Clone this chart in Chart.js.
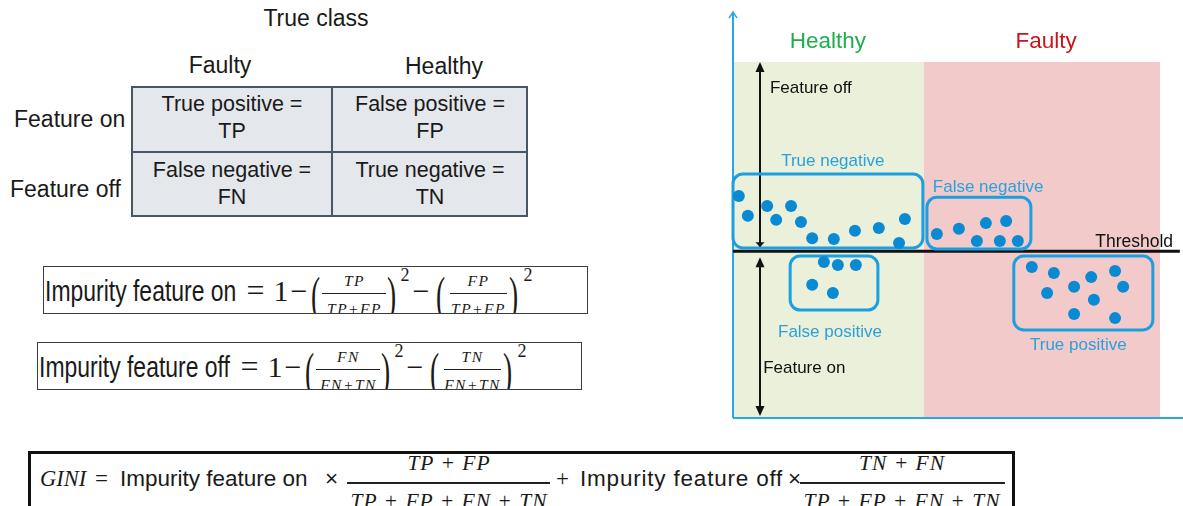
<!DOCTYPE html>
<html lang="en">
<head>
<meta charset="UTF-8">
<title>Gini impurity of a feature</title>
<script src="https://cdn.jsdelivr.net/npm/chart.js"></script>
<style>
  body { margin:0; background:#fff; }
  #page { position:relative; width:1183px; height:506px; overflow:hidden; background:#fff;
          font-family:"Liberation Sans", Arial, sans-serif; color:#1a1a1a; }
  .t { position:absolute; white-space:nowrap; line-height:1; }
  .r { position:absolute; box-sizing:border-box; }
  #wrap { position:absolute; left:720px; top:0; width:463px; height:430px; }
</style>
</head>
<body>
<div id="page">
  <div id="wrap"><canvas id="diagram" width="463" height="430"></canvas></div>
</div>

<script>
// ---- data (feature value on x, model output on y, 0..100 units) ----
const tnX = [1.3, 3.3, 7.6, 9.6, 12.9, 15.1, 17.6, 22.4, 27.1, 32.4, 38.2, 36.9];
const tnY = [54.7, 49.8, 52.2, 48.8, 52.2, 48.3, 44.3, 44.1, 46.1, 46.8, 49.0, 43.1];
const fnX = [45.3, 50.2, 56.2, 60.7, 54.2, 59.3, 63.3];
const fnY = [45.3, 46.6, 48.0, 48.5, 43.6, 43.6, 43.6];
const fpX = [20.2, 23.3, 27.3, 17.6, 22.2];
const fpY = [38.4, 37.7, 37.7, 32.8, 30.8];
const tpX = [66.4, 71.3, 79.6, 84.9, 69.8, 75.8, 86.7, 80.2, 75.8, 84.9];
const tpY = [37.2, 35.7, 34.7, 36.2, 30.8, 32.3, 32.3, 29.1, 25.6, 24.6];

const threshold = 41.1;
const classNames = ['Healthy', 'Faulty'];
const classEdges = [0, 42.4, 94.9];
const classTop = 87.7;
const groupNames = ['True negative', 'False negative', 'False positive', 'True positive'];
const sideNames = ['Feature off', 'Feature on'];

// confusion table text
const colNames = ['Faulty', 'Healthy'];
const rowNames = ['Feature on', 'Feature off'];
const cells = [['True positive =', 'TP'], ['False positive =', 'FP'],
               ['False negative =', 'FN'], ['True negative =', 'TN']];

// ---- layout of the drawing (not data) ----
const layout = {
  groupBoxes: [[0, 42.2, 41.9, 60.1], [43.1, 66.2, 41.6, 54.4], [12.7, 32.2, 26.6, 39.9], [62.4, 93.3, 21.7, 39.9]],
  groupLabels: [[10.7, 62.1], [44.4, 55.7], [10.0, 20.0], [66.0, 16.7]],
  classLabelX: [21.1, 69.6],
  classLabelY: 91.1,
  sideLabels: [[8.2, 80.0], [6.7, 11.1]],
  arrowX: 6.0,
  thresholdEnd: 99.3
};

const BLUE = '#1c9fe0';

// ---- left side: table and formulas as html text ----
const page = document.getElementById('page');

function put(parent, text, x, base, size, css, center) {
  var s = document.createElement('span');
  s.className = 't';
  s.textContent = text;
  s.style.cssText = 'left:' + x + 'px;top:' + (base - 0.85 * size) + 'px;font-size:' + size + 'px;' + (css || '');
  if (center) s.style.transform = 'translateX(-50%)';
  parent.appendChild(s);
  return s;
}
function rect(parent, x, y, w, h, css) {
  var d = document.createElement('div');
  d.className = 'r';
  d.style.cssText = 'left:' + x + 'px;top:' + y + 'px;width:' + w + 'px;height:' + h + 'px;' + (css || '');
  parent.appendChild(d);
  return d;
}

const SERIF = 'font-family:"Liberation Serif",serif;';
const ITAL = SERIF + 'font-style:italic;';
const PAREN = SERIF + 'transform:scaleX(0.55);transform-origin:0 0';

put(page, 'True class', 316, 27, 23, '', true);
put(page, colNames[0], 220, 74, 23, '', true);
put(page, colNames[1], 444, 75, 23, '', true);

rect(page, 131, 86, 397, 131, 'background:#e4e7eb;border:2px solid #485668');
rect(page, 331, 86, 2, 131, 'background:#485668');
rect(page, 131, 151, 397, 2, 'background:#485668');
put(page, rowNames[0], 14, 128, 23);
put(page, rowNames[1], 10, 198, 23);
[[232, 112], [430, 112], [232, 178], [430, 178]].forEach(function (p, i) {
  put(page, cells[i][0], p[0], p[1], 21.5, '', true);
  put(page, cells[i][1], p[0], p[1] + 27, 21.5, '', true);
});

function impurity(dx, dy, label, n1, n2, den) {
  var bl = 43 + dx, bt = 266 + dy, bw = 1.5;
  var b = rect(page, bl, bt, 545, 48, 'border:1.5px solid #3c3c3c;overflow:hidden;background:#fff');
  function p(text, x, base, size, css, c) { return put(b, text, x + dx - bl - bw, base + dy - bt - bw, size, css, c); }
  function line(x0, x1, y) { rect(b, x0 + dx - bl - bw, y + dy - bt - bw, x1 - x0, 1, 'background:#222'); }
  p(label, 45, 302, 30, 'transform:scaleX(0.765);transform-origin:0 0');
  p('=', 247, 302, 32, SERIF);
  p('1', 274, 302, 30, SERIF);
  p('\u2212', 291, 302, 30, SERIF);
  p('(', 311, 313, 50, PAREN);
  p(n1, 355, 287, 15.5, ITAL + 'letter-spacing:1.5px', true);
  line(322, 386, 293);
  p(den, 355, 315, 15.5, ITAL + 'letter-spacing:1.5px', true);
  p(')', 387, 313, 50, PAREN);
  p('2', 401, 282, 18, SERIF);
  p('\u2212', 413, 302, 30, SERIF);
  p('(', 436, 313, 50, PAREN);
  p(n2, 479, 287, 15.5, ITAL + 'letter-spacing:1.5px', true);
  line(450, 507, 293);
  p(den, 479, 315, 15.5, ITAL + 'letter-spacing:1.5px', true);
  p(')', 509, 313, 50, PAREN);
  p('2', 524, 282, 18, SERIF);
}
impurity(0, 0, 'Impurity feature on', 'TP', 'FP', 'TP+FP');
impurity(-6, 76, 'Impurity feature off', 'FN', 'TN', 'FN+TN');

// GINI box
(function () {
  var bl = 28, bt = 451, bw = 3;
  var b = rect(page, bl, bt, 987, 70, 'border:3px solid #111;overflow:hidden;background:#fff');
  function p(text, x, base, size, css, c) { return put(b, text, x - bl - bw, base - bt - bw, size, css, c); }
  function line(x0, x1, y) { rect(b, x0 - bl - bw, y - bt - bw, x1 - x0, 1.5, 'background:#222'); }
  p('GINI', 40, 487, 22.5, ITAL);
  p('=', 95, 487, 23, SERIF);
  p('Impurity feature on', 120, 487, 22.5);
  p('\u00d7', 325, 487, 22.5);
  p('TP + FP', 449, 471, 21.5, ITAL + 'letter-spacing:1px', true);
  line(347, 550, 482);
  p('TP + FP + FN + TN', 449, 509, 21.5, ITAL + 'letter-spacing:1px', true);
  p('+', 556, 487, 23, SERIF);
  p('Impurity feature off', 580, 487, 22.5, 'letter-spacing:0.8px');
  p('\u00d7', 788, 487, 22.5);
  p('TN + FN', 902, 471, 21.5, ITAL + 'letter-spacing:1px', true);
  line(800, 1005, 482);
  p('TP + FP + FN + TN', 902, 509, 21.5, ITAL + 'letter-spacing:1px', true);
})();

// ---- right side: chart ----
function pts(xs, ys) {
  return xs.map(function (x, i) { return { x: x, y: ys[i] }; });
}

function roundBox(ctx, x0, y0, x1, y1, r) {
  ctx.beginPath();
  ctx.moveTo(x0 + r, y0);
  ctx.arcTo(x1, y0, x1, y1, r);
  ctx.arcTo(x1, y1, x0, y1, r);
  ctx.arcTo(x0, y1, x0, y0, r);
  ctx.arcTo(x0, y0, x1, y0, r);
  ctx.closePath();
  ctx.stroke();
}
function head(ctx, x, y, dir, w, l) { // dir -1 = points up, 1 = points down
  ctx.beginPath();
  ctx.moveTo(x, y);
  ctx.lineTo(x - w, y - dir * l);
  ctx.lineTo(x + w, y - dir * l);
  ctx.closePath();
  ctx.fill();
}

const diagramPlugin = {
  id: 'diagram',
  beforeDatasetsDraw: function (chart) {
    var ctx = chart.ctx, a = chart.chartArea;
    var X = function (v) { return chart.scales.x.getPixelForValue(v); };
    var Y = function (v) { return chart.scales.y.getPixelForValue(v); };
    ctx.save();

    // true class regions
    var fills = ['#ebf0da', '#f2caca'];
    for (var i = 0; i < 2; i++) {
      ctx.fillStyle = fills[i];
      ctx.fillRect(X(classEdges[i]), Y(classTop), X(classEdges[i + 1]) - X(classEdges[i]), Y(0) - Y(classTop));
    }

    // axes
    ctx.strokeStyle = '#2aa5e8';
    ctx.lineWidth = 2;
    ctx.beginPath();
    ctx.moveTo(a.left, a.bottom); ctx.lineTo(a.left, a.top);
    ctx.moveTo(a.left, a.bottom); ctx.lineTo(a.right, a.bottom);
    ctx.stroke();
    ctx.lineWidth = 1.5;
    ctx.beginPath();
    ctx.moveTo(a.left - 4, a.top + 6); ctx.lineTo(a.left, a.top); ctx.lineTo(a.left + 4, a.top + 6);
    ctx.stroke();

    // threshold
    ctx.strokeStyle = '#111';
    ctx.lineWidth = 3;
    ctx.beginPath();
    ctx.moveTo(X(0), Y(threshold)); ctx.lineTo(X(layout.thresholdEnd), Y(threshold));
    ctx.stroke();

    // feature off / on arrows
    var ax = X(layout.arrowX);
    ctx.fillStyle = '#111';
    ctx.lineWidth = 2;
    ctx.beginPath();
    ctx.moveTo(ax, Y(classTop) + 6); ctx.lineTo(ax, Y(threshold) - 4);
    ctx.moveTo(ax, Y(threshold) + 8); ctx.lineTo(ax, Y(0) - 6);
    ctx.stroke();
    head(ctx, ax, Y(classTop), -1, 4.5, 10);
    head(ctx, ax, Y(threshold) - 4, 1, 4.5, 5);
    head(ctx, ax, Y(threshold) + 6, -1, 4.5, 10);
    head(ctx, ax, Y(0) - 2, 1, 4.5, 10);

    // group boxes
    ctx.strokeStyle = BLUE;
    ctx.lineWidth = 3;
    layout.groupBoxes.forEach(function (g) {
      roundBox(ctx, X(g[0]), Y(g[3]), X(g[1]), Y(g[2]), 10);
    });

    // labels
    ctx.textBaseline = 'alphabetic';
    ctx.font = '17px "Liberation Sans", Arial, sans-serif';
    ctx.fillStyle = '#2aa1dc';
    ctx.textAlign = 'left';
    groupNames.forEach(function (n, i) {
      ctx.fillText(n, X(layout.groupLabels[i][0]), Y(layout.groupLabels[i][1]));
    });
    ctx.fillStyle = '#111';
    sideNames.forEach(function (n, i) {
      ctx.fillText(n, X(layout.sideLabels[i][0]), Y(layout.sideLabels[i][1]));
    });
    ctx.textAlign = 'right';
    ctx.font = '17.5px "Liberation Sans", Arial, sans-serif';
    ctx.fillText('Threshold', X(97.8), Y(threshold) - 4);

    ctx.textAlign = 'center';
    ctx.font = '22.5px "Liberation Sans", Arial, sans-serif';
    var cc = ['#1fae4b', '#c8141e'];
    classNames.forEach(function (n, i) {
      ctx.fillStyle = cc[i];
      ctx.fillText(n, X(layout.classLabelX[i]), Y(layout.classLabelY));
    });
    ctx.restore();
  }
};

function group(label, xs, ys) {
  return {
    label: label,
    data: pts(xs, ys),
    backgroundColor: '#0a8ad2',
    borderColor: '#0a8ad2',
    borderWidth: 0,
    pointRadius: 6,
    pointHoverRadius: 6
  };
}

new Chart(document.getElementById('diagram'), {
  type: 'scatter',
  data: {
    datasets: [
      group(groupNames[0], tnX, tnY),
      group(groupNames[1], fnX, fnY),
      group(groupNames[2], fpX, fpY),
      group(groupNames[3], tpX, tpY)
    ]
  },
  options: {
    responsive: false,
    animation: false,
    devicePixelRatio: 1,
    layout: { autoPadding: false, padding: { left: 13, top: 12, right: 0, bottom: 12 } },
    scales: {
      x: { type: 'linear', min: 0, max: 100, display: false },
      y: { type: 'linear', min: 0, max: 100, display: false }
    },
    plugins: { legend: { display: false }, tooltip: { enabled: false } }
  },
  plugins: [diagramPlugin]
});
</script>
</body>
</html>
